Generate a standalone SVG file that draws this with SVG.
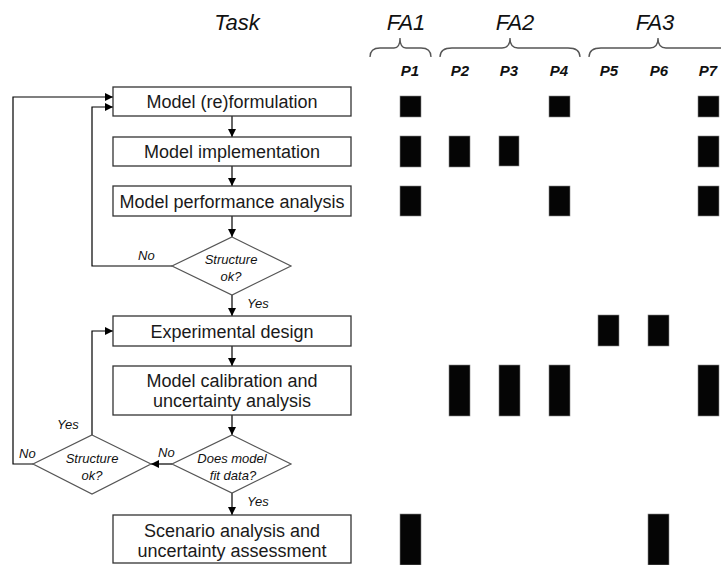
<svg xmlns="http://www.w3.org/2000/svg" width="721" height="565" viewBox="0 0 721 565">
<defs>
<marker id="ah" markerUnits="userSpaceOnUse" markerWidth="9" markerHeight="9" refX="8" refY="4" orient="auto">
<path d="M0,0 L8,4 L0,8 z" fill="#000"/>
</marker>
<style>
.box{fill:#fff;stroke:#333;stroke-width:1.3}
.dia{fill:#fff;stroke:#555;stroke-width:1.2}
.bt{font-family:"Liberation Sans",Arial,sans-serif;font-size:18px;fill:#1a1a1a;text-anchor:middle}
.dt{font-family:"Liberation Sans",Arial,sans-serif;font-size:13px;font-style:italic;fill:#111;text-anchor:middle}
.lb{font-family:"Liberation Sans",Arial,sans-serif;font-size:13px;font-style:italic;fill:#111}
.hd{font-family:"Liberation Sans",Arial,sans-serif;font-size:22px;font-style:italic;fill:#111;text-anchor:middle}
.pl{font-family:"Liberation Sans",Arial,sans-serif;font-size:15px;font-style:italic;font-weight:bold;fill:#111;text-anchor:middle}
.cn{fill:none;stroke:#000;stroke-width:1.2}
.br{fill:none;stroke:#555;stroke-width:1.3}
.bar{fill:#050505;stroke:#888;stroke-width:0.6}
</style>
</defs>
<rect width="721" height="565" fill="#fff"/>

<g id="headers">
<text class="hd" x="237" y="30">Task</text>
<text class="hd" x="406" y="30">FA1</text>
<text class="hd" x="515" y="30">FA2</text>
<text class="hd" x="655" y="30">FA3</text>
<path class="br" d="M370,57 Q370,48 380,48 L394,48 Q400,48 400,38 Q400,48 406,48 L421,48 Q431,48 431,57"/>
<path class="br" d="M440,57 Q440,48 452,48 L502,48 Q510,48 510,38 Q510,48 518,48 L568,48 Q580,48 580,57"/>
<path class="br" d="M589,57 Q589,48 601,48 L650,48 Q658,48 658,38 Q658,48 666,48 L730,48"/>
<text class="pl" x="410" y="76">P1</text>
<text class="pl" x="460" y="76">P2</text>
<text class="pl" x="509" y="76">P3</text>
<text class="pl" x="559" y="76">P4</text>
<text class="pl" x="609" y="76">P5</text>
<text class="pl" x="659" y="76">P6</text>
<text class="pl" x="708" y="76">P7</text>
</g>

<g id="connectors">
<path class="cn" marker-end="url(#ah)" d="M232,116 V137"/>
<path class="cn" marker-end="url(#ah)" d="M232,166 V186"/>
<path class="cn" marker-end="url(#ah)" d="M232,216 V237"/>
<path class="cn" marker-end="url(#ah)" d="M232,295 V316"/>
<path class="cn" marker-end="url(#ah)" d="M172,266 H92 V107 H113"/>
<path class="cn" marker-end="url(#ah)" d="M232,346 V366"/>
<path class="cn" marker-end="url(#ah)" d="M232,415 V435"/>
<path class="cn" marker-end="url(#ah)" d="M232,493 V515"/>
<path class="cn" marker-end="url(#ah)" d="M172,464 H151"/>
<path class="cn" marker-end="url(#ah)" d="M92,435 V331 H113"/>
<path class="cn" marker-end="url(#ah)" d="M33,464 H13 V97 H113"/>
<text class="lb" x="138" y="260">No</text>
<text class="lb" x="247" y="308">Yes</text>
<text class="lb" x="57" y="429">Yes</text>
<text class="lb" x="19" y="458">No</text>
<text class="lb" x="158" y="457">No</text>
<text class="lb" x="247" y="506">Yes</text>
</g>

<g id="n1"><rect class="box" x="113" y="87" width="238" height="29"/><text class="bt" x="232" y="108">Model (re)formulation</text></g>
<g id="n2"><rect class="box" x="113" y="137" width="238" height="29"/><text class="bt" x="232" y="158">Model implementation</text></g>
<g id="n3"><rect class="box" x="113" y="186" width="238" height="30"/><text class="bt" x="232" y="207.5">Model performance analysis</text></g>
<g id="d1"><polygon class="dia" points="232,237 291,266 232,295 172,266"/><text class="dt" x="231" y="264">Structure</text><text class="dt" x="231" y="281">ok?</text></g>
<g id="n4"><rect class="box" x="113" y="316" width="238" height="30"/><text class="bt" x="232" y="337.5">Experimental design</text></g>
<g id="n5"><rect class="box" x="113" y="366" width="238" height="49"/><text class="bt" x="232" y="387">Model calibration and</text><text class="bt" x="232" y="407">uncertainty analysis</text></g>
<g id="d2"><polygon class="dia" points="232,435 291,464 232,493 172,464"/><text class="dt" x="232" y="463">Does model</text><text class="dt" x="233" y="480">fit data?</text></g>
<g id="d3"><polygon class="dia" points="92,435 151,464 92,494 33,464"/><text class="dt" x="92" y="463">Structure</text><text class="dt" x="92" y="480">ok?</text></g>
<g id="n6"><rect class="box" x="113" y="515" width="238" height="48"/><text class="bt" x="232" y="537">Scenario analysis and</text><text class="bt" x="232" y="557">uncertainty assessment</text></g>

<g id="bars">
<rect class="bar" x="400" y="96" width="21" height="21"/>
<rect class="bar" x="549" y="96" width="21" height="21"/>
<rect class="bar" x="698" y="96" width="21" height="21"/>
<rect class="bar" x="400" y="136" width="21" height="31"/>
<rect class="bar" x="449" y="136" width="21" height="31"/>
<rect class="bar" x="499" y="136" width="20" height="30"/>
<rect class="bar" x="698" y="136" width="21" height="31"/>
<rect class="bar" x="400" y="186" width="21" height="30"/>
<rect class="bar" x="549" y="186" width="21" height="30"/>
<rect class="bar" x="698" y="186" width="21" height="30"/>
<rect class="bar" x="598" y="315" width="21" height="31"/>
<rect class="bar" x="648" y="315" width="21" height="31"/>
<rect class="bar" x="449" y="365" width="21" height="51"/>
<rect class="bar" x="499" y="365" width="21" height="51"/>
<rect class="bar" x="549" y="365" width="21" height="51"/>
<rect class="bar" x="698" y="365" width="21" height="51"/>
<rect class="bar" x="400" y="514" width="21" height="51"/>
<rect class="bar" x="648" y="514" width="21" height="51"/>
</g>
</svg>
